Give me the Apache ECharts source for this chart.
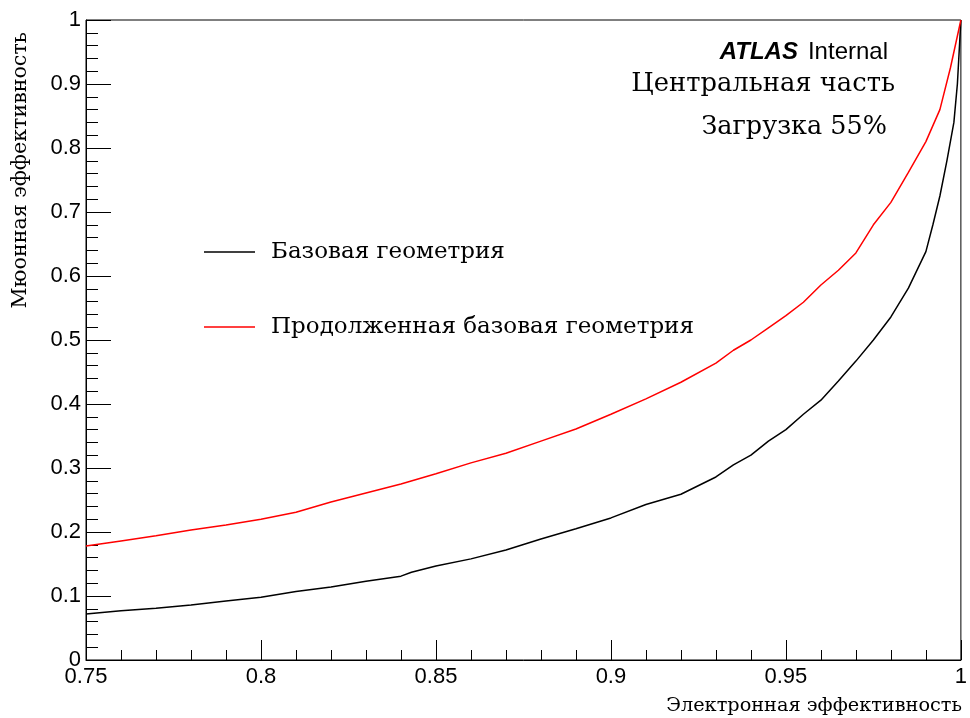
<!DOCTYPE html>
<html>
<head>
<meta charset="utf-8">
<script src="https://cdn.jsdelivr.net/npm/echarts@6/dist/echarts.min.js"></script>
<style>html,body{margin:0;padding:0;background:#fff;}#c{width:970px;height:718px;}</style>
</head>
<body>
<div id="c"></div>
<script>
// Electron efficiency (x) vs muon efficiency (y)
const baseX = [0.75,0.76,0.77,0.78,0.79,0.80,0.81,0.82,0.83,0.84,0.843,0.85,0.86,0.87,0.88,0.89,0.90,0.91,0.92,0.93,0.935,0.94,0.945,0.95,0.955,0.96,0.965,0.97,0.975,0.98,0.985,0.99,0.992,0.994,0.996,0.998,0.999,1.0];
const baseY = [0.072,0.077,0.081,0.086,0.092,0.098,0.107,0.114,0.123,0.131,0.137,0.147,0.158,0.172,0.189,0.205,0.222,0.243,0.259,0.286,0.305,0.320,0.342,0.360,0.384,0.406,0.436,0.467,0.500,0.536,0.581,0.638,0.680,0.725,0.780,0.840,0.900,1.0];
const extX = [0.75,0.76,0.77,0.78,0.79,0.80,0.81,0.82,0.83,0.84,0.85,0.86,0.87,0.88,0.89,0.90,0.91,0.92,0.93,0.935,0.94,0.945,0.95,0.955,0.96,0.965,0.97,0.975,0.98,0.985,0.99,0.994,0.997,1.0];
const extY = [0.178,0.186,0.194,0.203,0.211,0.220,0.231,0.247,0.261,0.275,0.291,0.308,0.323,0.342,0.361,0.384,0.408,0.434,0.464,0.484,0.500,0.519,0.538,0.559,0.586,0.609,0.636,0.680,0.715,0.762,0.810,0.860,0.925,1.0];
const seriesNames = ['Базовая геометрия','Продолженная базовая геометрия'];
const xTitle = 'Электронная эффективность';
const yTitle = 'Мюонная эффективность';
const labels = ['Центральная часть','Загрузка 55%'];

const pair = (xs, ys) => xs.map((x, i) => [x, ys[i]]);
const serif = 'DejaVu Serif';
const sans = 'Liberation Sans';

const chart = echarts.init(document.getElementById('c'));
chart.setOption({
  animation: false,
  backgroundColor: '#fff',
  grid: {left: 86, right: 7, top: 20, bottom: 58, show: true, borderColor: '#000', borderWidth: 1, backgroundColor: 'transparent'},
  legend: {
    orient: 'vertical', left: 199, top: 232, itemGap: 45,
    itemWidth: 51, itemHeight: 1.5, icon: 'rect',
    textStyle: {fontFamily: serif, fontSize: 23, color: '#000', lineHeight: 30, padding: [0,0,0,11]},
    data: seriesNames
  },
  xAxis: {
    type: 'value', min: 0.75, max: 1, interval: 0.05,
    axisLine: {lineStyle: {color: '#000', width: 1}},
    axisTick: {inside: true, length: 20, lineStyle: {color: '#000'}},
    minorTick: {show: true, splitNumber: 5, length: 10, lineStyle: {color: '#000'}},
    splitLine: {show: false},
    axisLabel: {fontFamily: sans, fontSize: 22, color: '#000', margin: 6,
      formatter: v => (Math.abs(v-1) < 1e-9 ? '1' : String(+v.toFixed(2)))}
  },
  yAxis: {
    type: 'value', min: 0, max: 1, interval: 0.1,
    axisLine: {lineStyle: {color: '#000', width: 1}},
    axisTick: {inside: true, length: 25, lineStyle: {color: '#000'}},
    minorTick: {show: true, splitNumber: 5, length: 12, lineStyle: {color: '#000'}},
    splitLine: {show: false},
    axisLabel: {fontFamily: sans, fontSize: 22, color: '#000', margin: 5,
      formatter: v => (Math.abs(v) < 1e-9 ? '0' : Math.abs(v-1) < 1e-9 ? '1' : String(+v.toFixed(1)))}
  },
  series: [
    {name: seriesNames[0], type: 'line', data: pair(baseX, baseY), showSymbol: false, symbol: 'none',
     lineStyle: {color: '#000', width: 1.5}, itemStyle: {color: '#000'}},
    {name: seriesNames[1], type: 'line', data: pair(extX, extY), showSymbol: false, symbol: 'none',
     lineStyle: {color: '#ff0000', width: 1.5}, itemStyle: {color: '#ff0000'}}
  ],
  graphic: [
    {type: 'text', right: 82, top: 40, style: {
      text: '{b|ATLAS}{n|Internal}', rich: {
        b: {fontFamily: sans, fontSize: 24, fontWeight: 'bold', fontStyle: 'italic', fill: '#000', padding: [0, 10, 0, 0]},
        n: {fontFamily: sans, fontSize: 24, fill: '#000'}
      }}},
    {type: 'text', right: 75, top: 71, style: {text: labels[0], fontFamily: serif, fontSize: 25.8, fill: '#000'}},
    {type: 'text', right: 83, top: 114, style: {text: labels[1], fontFamily: serif, fontSize: 25.5, fill: '#000'}},
    {type: 'text', x: 962, y: 706, style: {text: xTitle, fontFamily: serif, fontSize: 19.3, fill: '#000', align: 'right', verticalAlign: 'middle'}},
    {type: 'text', x: 21, y: 32, rotation: Math.PI/2, style: {text: yTitle, fontFamily: serif, fontSize: 20.6, fill: '#000', align: 'right', verticalAlign: 'middle'}}
  ]
});
</script>
</body>
</html>
